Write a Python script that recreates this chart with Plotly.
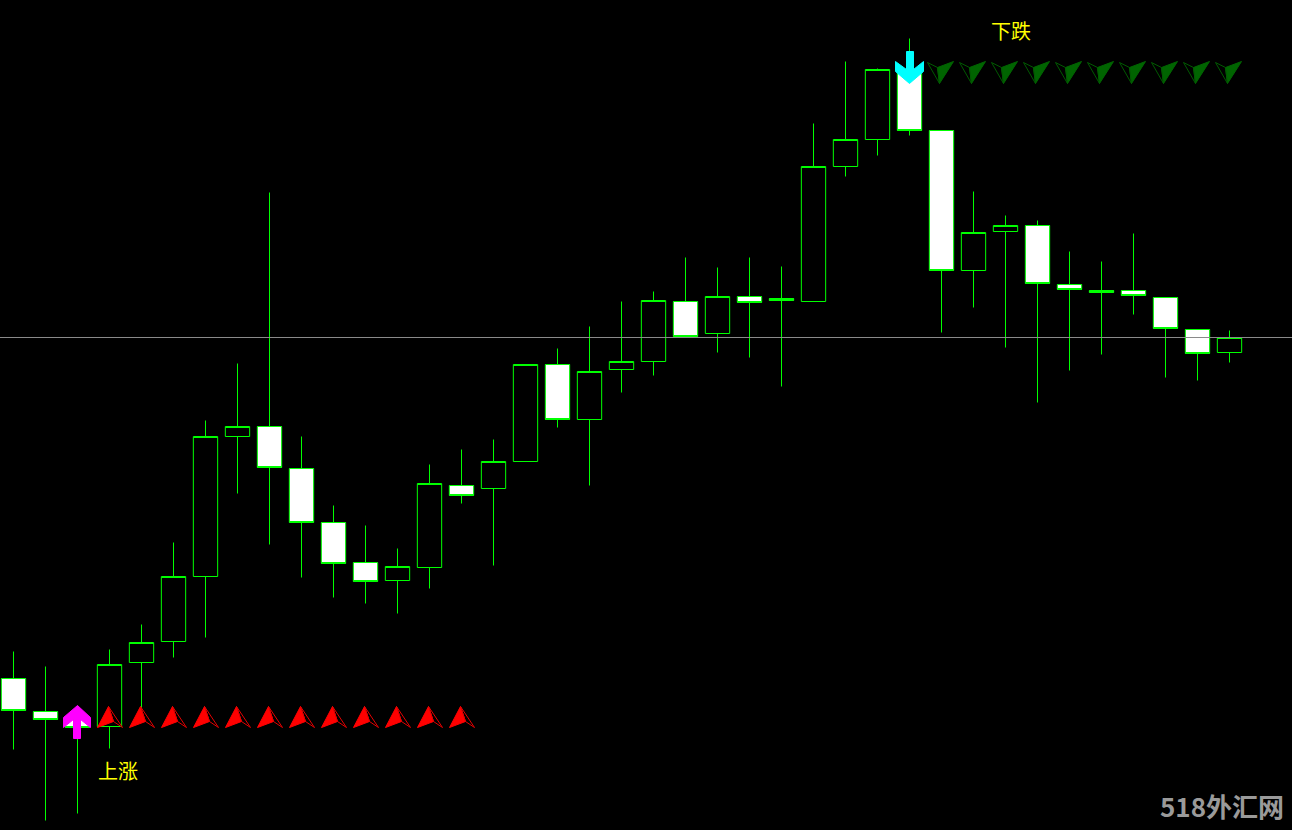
import plotly.graph_objects as go

# ---- data (price levels in points) ----
opens  = [152, 119, 111, 104, 168, 189, 254, 394, 404, 362, 308, 268, 250, 263, 345, 342, 369, 466, 411, 461,
          469, 529, 497, 534, 532, 529, 664, 691, 761, 700, 560, 599, 605, 546, 540, 540, 533, 501, 478]
highs  = [179, 164, 118, 181, 206, 288, 410, 467, 638, 394, 325, 305, 282, 366, 381, 391, 466, 482, 504, 529,
          539, 573, 563, 573, 564, 707, 769, 762, 792, 700, 639, 615, 610, 579, 569, 597, 533, 501, 500]
lows   = [81, 10, 17, 82, 118, 173, 193, 337, 286, 253, 233, 227, 217, 242, 327, 265, 369, 403, 345, 438,
          455, 494, 478, 473, 444, 529, 654, 675, 695, 498, 523, 483, 428, 460, 476, 516, 453, 450, 468]
closes = [120, 111, 103, 166, 188, 254, 394, 404, 363, 308, 267, 249, 264, 347, 335, 369, 466, 411, 459, 469,
          530, 494, 534, 528, 530, 664, 691, 761, 700, 560, 598, 605, 547, 541, 538, 535, 502, 477, 493]
bars = list(range(len(opens)))

current_price = 493

buy_bar, buy_level = 2, 125
up_trend_bars = [3, 4, 5, 6, 7, 8, 9, 10, 11, 12, 13, 14]
up_trend_level = 124

sell_bar, sell_level = 28, 747
down_trend_bars = [29, 30, 31, 32, 33, 34, 35, 36, 37, 38]
down_trend_level = 747

up_label, down_label = "上涨", "下跌"
watermark = "518外汇网"

# ---- layout geometry ----
W, H = 1292, 830
BAR_PX = 32.0
X0_PX = 13.5
x_range = [-X0_PX / BAR_PX, (W - X0_PX) / BAR_PX]
y_range = [0.5, H + 0.5]
ux = (x_range[1] - x_range[0]) / W   # data units per pixel, x
uy = (y_range[1] - y_range[0]) / H   # data units per pixel, y


def shape_pts(x, y, pts):
    # pts in pixel offsets (right +, down +)
    xs = [x + dx * ux for dx, dy in pts]
    ys = [y - dy * uy for dx, dy in pts]
    return xs, ys


fig = go.Figure()

fig.add_trace(go.Candlestick(
    x=bars, open=opens, high=highs, low=lows, close=closes,
    increasing=dict(line=dict(color="#00ff00", width=1), fillcolor="#000000"),
    decreasing=dict(line=dict(color="#00ff00", width=1), fillcolor="#ffffff"),
    whiskerwidth=0, hoverinfo="skip", showlegend=False,
))

# current price line
fig.add_hline(y=current_price, line=dict(color="#8a8a8a", width=1))

# red up-trend arrowheads
for b in up_trend_bars:
    xs, ys = shape_pts(b, up_trend_level, [(-1, 0), (-12, 21), (4, 15), (-1, 0)])
    fig.add_trace(go.Scatter(x=xs, y=ys, mode="lines", fill="toself", fillcolor="#ff0000",
                             line=dict(color="#ff0000", width=1), hoverinfo="skip", showlegend=False))
    xs, ys = shape_pts(b, up_trend_level, [(-1, 0), (13, 21), (4, 15), (-1, 0)])
    fig.add_trace(go.Scatter(x=xs, y=ys, mode="lines",
                             line=dict(color="#e00000", width=1), hoverinfo="skip", showlegend=False))

# green down-trend arrowheads
for b in down_trend_bars:
    xs, ys = shape_pts(b, down_trend_level, [(-2, 0), (-4, -16), (12, -22), (-2, 0)])
    fig.add_trace(go.Scatter(x=xs, y=ys, mode="lines", fill="toself", fillcolor="#006400",
                             line=dict(color="#006400", width=1), hoverinfo="skip", showlegend=False))
    xs, ys = shape_pts(b, down_trend_level, [(-2, 0), (-14, -21), (-4, -16), (-2, 0)])
    fig.add_trace(go.Scatter(x=xs, y=ys, mode="lines",
                             line=dict(color="#005a00", width=1), hoverinfo="skip", showlegend=False))

# magenta buy arrow
up_arrow = [(0, 0), (13, 12), (13, 22), (3, 14), (3, 33), (-4, 33), (-4, 14), (-14, 22), (-14, 12), (0, 0)]
xs, ys = shape_pts(buy_bar, buy_level, up_arrow)
fig.add_trace(go.Scatter(x=xs, y=ys, mode="lines", fill="toself", fillcolor="#ff00ff",
                         line=dict(color="#ff00ff", width=1), hoverinfo="skip", showlegend=False))

# cyan sell arrow
down_arrow = [(0, 0), (-14, -12), (-14, -22), (-3, -14), (-3, -32), (4, -32), (4, -14), (14, -22), (14, -12), (0, 0)]
xs, ys = shape_pts(sell_bar, sell_level, down_arrow)
fig.add_trace(go.Scatter(x=xs, y=ys, mode="lines", fill="toself", fillcolor="#00ffff",
                         line=dict(color="#00ffff", width=1), hoverinfo="skip", showlegend=False))

cjk = "Noto Sans CJK SC"
fig.add_annotation(x=96 / W, y=1 - 770 / H, xref="paper", yref="paper", text=up_label,
                   showarrow=False, xanchor="left", yanchor="middle",
                   font=dict(family=cjk, size=20, color="#ffff00"))
fig.add_annotation(x=989 / W, y=1 - 30 / H, xref="paper", yref="paper", text=down_label,
                   showarrow=False, xanchor="left", yanchor="middle",
                   font=dict(family=cjk, size=20, color="#ffff00"))
fig.add_annotation(x=1286 / W, y=1 - 805 / H, xref="paper", yref="paper", text="<b>" + watermark + "</b>",
                   showarrow=False, xanchor="right", yanchor="middle",
                   font=dict(family=cjk, size=26, color="#9a9a9a"))

fig.update_layout(
    width=W, height=H,
    margin=dict(l=0, r=0, t=0, b=0),
    paper_bgcolor="#000000", plot_bgcolor="#000000",
    boxgap=0.24, boxgroupgap=0,
    showlegend=False,
    hovermode=False,
    xaxis=dict(range=x_range, visible=False, showgrid=False, zeroline=False,
               rangeslider=dict(visible=False), fixedrange=True),
    yaxis=dict(range=y_range, visible=False, showgrid=False, zeroline=False, fixedrange=True),
)

fig.write_html("out.html", config={"displayModeBar": False},
               post_script="document.body.style.margin='0px';document.body.style.background='#000';")
